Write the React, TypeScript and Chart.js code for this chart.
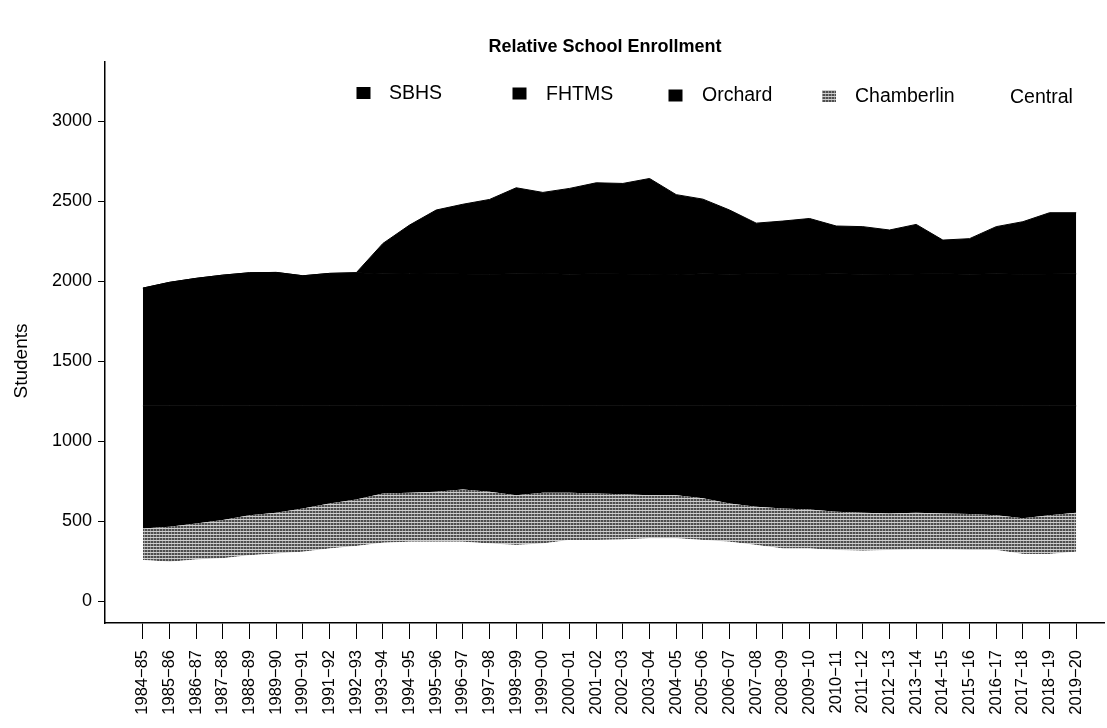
import React, { useEffect, useRef } from 'react';
import { Chart, registerables } from 'chart.js';

Chart.register(...registerables);

// ---- data ----
const categories = [
  '1984−85', '1985−86', '1986−87', '1987−88', '1988−89', '1989−90', '1990−91', '1991−92', '1992−93',
  '1993−94', '1994−95', '1995−96', '1996−97', '1997−98', '1998−99', '1999−00', '2000−01', '2001−02',
  '2002−03', '2003−04', '2004−05', '2005−06', '2006−07', '2007−08', '2008−09', '2009−10', '2010−11',
  '2011−12', '2012−13', '2013−14', '2014−15', '2015−16', '2016−17', '2017−18', '2018−19', '2019−20',
];

const central = [
  256, 246, 260, 267, 287, 298, 308, 329, 344, 365, 371, 371, 371, 360, 350, 360, 381, 381,
  385, 392, 392, 381, 371, 350, 329, 329, 319, 315, 319, 323, 323, 319, 319, 294, 294, 308,
];

const chamberlin = [
  198, 218, 225, 239, 250, 254, 271, 281, 291, 308, 306, 312, 327, 323, 312, 317, 296, 292,
  282, 270, 270, 261, 239, 240, 250, 244, 239, 237, 229, 229, 225, 225, 218, 223, 243, 244,
];

const orchard = [
  766, 756, 735, 714, 683, 668, 641, 610, 585, 547, 543, 537, 522, 537, 558, 543, 543, 547,
  553, 558, 558, 578, 610, 630, 641, 647, 662, 668, 672, 668, 672, 676, 683, 703, 683, 668,
];

const fhtms = [
  736, 772, 797, 817, 832, 834, 813, 828, 832, 825, 828, 826, 824, 822, 825, 827, 823, 826,
  824, 822, 820, 825, 823, 826, 824, 822, 825, 823, 821, 824, 826, 823, 825, 822, 824, 825,
];

const sbhs = [
  0, 0, 0, 0, 0, 0, 0, 0, 0, 190, 302, 398, 436, 468, 538, 507, 536, 568,
  566, 599, 500, 467, 401, 316, 331, 349, 299, 297, 278, 310, 210, 222, 295, 329, 383, 382,
];

const yTicks = [0, 500, 1000, 1500, 2000, 2500, 3000];
const legendNames = ['SBHS', 'FHTMS', 'Orchard', 'Chamberlin', 'Central'];

const FONT = '"Liberation Sans", Arial, Helvetica, sans-serif';

function makeStipple(): CanvasPattern | string {
  const c = document.createElement('canvas');
  c.width = 3;
  c.height = 3;
  const g = c.getContext('2d');
  if (!g) return '#888';
  g.fillStyle = '#4e4e4e';
  g.fillRect(0, 0, 3, 3);
  g.fillStyle = '#cfcfcf';
  g.fillRect(0, 0, 3, 1);
  g.fillStyle = '#929292';
  g.fillRect(0, 1, 1, 2);
  return g.createPattern(c, 'repeat') || '#888';
}

export default function App() {
  const ref = useRef<HTMLCanvasElement | null>(null);

  useEffect(() => {
    const canvas = ref.current;
    if (!canvas) return;
    const stipple = makeStipple();
    const pts = (arr: number[]) => arr.map((v, i) => ({ x: i, y: v }));

    const base = { pointRadius: 0, tension: 0 };
    const datasets: any[] = [
      { label: 'Central', data: pts(central), backgroundColor: '#ffffff', borderColor: 'rgba(0,0,0,0)', borderWidth: 0, fill: 'origin', ...base },
      { label: 'Chamberlin', data: pts(chamberlin), backgroundColor: stipple, borderColor: 'rgba(0,0,0,0)', borderWidth: 0, fill: '-1', ...base },
      { label: 'Orchard', data: pts(orchard), backgroundColor: '#000000', borderColor: '#000000', borderWidth: 1, fill: '-1', ...base },
      { label: 'FHTMS', data: pts(fhtms), backgroundColor: '#000000', borderColor: '#000000', borderWidth: 1, fill: '-1', ...base },
      { label: 'SBHS', data: pts(sbhs), backgroundColor: '#000000', borderColor: '#000000', borderWidth: 1, fill: '-1', ...base },
    ];

    const decor = {
      id: 'decor',
      afterDraw(chart: any) {
        const ctx = chart.ctx as CanvasRenderingContext2D;
        ctx.save();
        ctx.fillStyle = '#000';
        // title
        ctx.font = `bold 18px ${FONT}`;
        ctx.textAlign = 'center';
        ctx.textBaseline = 'middle';
        ctx.fillText('Relative School Enrollment', 605, 47);
        // y title
        ctx.save();
        ctx.translate(22, 361);
        ctx.rotate(-Math.PI / 2);
        ctx.font = `19px ${FONT}`;
        ctx.fillText('Students', 0, 0);
        ctx.restore();
        // legend
        const items = [
          { sx: 363.5, sy: 93, tx: 389, ty: 94, fill: '#000' as any },
          { sx: 519.5, sy: 93.5, tx: 546, ty: 94.5, fill: '#000' as any },
          { sx: 675.5, sy: 95.5, tx: 702, ty: 96, fill: '#000' as any },
          { sx: 829, sy: 96, tx: 855, ty: 97, fill: stipple as any },
          { sx: 985, sy: 97, tx: 1010, ty: 97.5, fill: '#ffffff' as any },
        ];
        ctx.font = `19.5px ${FONT}`;
        ctx.textAlign = 'left';
        items.forEach((it, k) => {
          ctx.fillStyle = it.fill;
          ctx.fillRect(it.sx - 7, it.sy - 6, 14, 12);
          ctx.fillStyle = '#000';
          ctx.fillText(legendNames[k], it.tx, it.ty);
        });
        ctx.restore();
      },
    };

    const chart = new Chart(canvas, {
      type: 'line',
      data: { datasets },
      options: {
        animation: false,
        responsive: false,
        devicePixelRatio: 1,
        layout: { padding: { top: 62, left: 0, right: 0, bottom: 0 } },
        plugins: { legend: { display: false }, title: { display: false }, tooltip: { enabled: false } },
        scales: {
          x: {
            type: 'linear',
            min: -1.421,
            max: 36.047,
            afterBuildTicks: (s: any) => {
              s.ticks = categories.map((_, i) => ({ value: i }));
            },
            afterFit: (s: any) => {
              s.height = 105;
            },
            ticks: {
              autoSkip: false,
              maxRotation: 90,
              minRotation: 90,
              padding: 11,
              color: '#000',
              font: { family: FONT, size: 16.5 },
              callback: (v: any) => categories[Math.round(Number(v))] ?? '',
            },
            grid: { display: true, drawOnChartArea: false, drawTicks: true, tickLength: 16, color: '#000', lineWidth: 1 },
            border: { display: true, color: '#000', width: 1.5 },
          },
          y: {
            stacked: true,
            min: -137,
            max: 3369,
            afterBuildTicks: (s: any) => {
              s.ticks = yTicks.map((v) => ({ value: v }));
            },
            afterFit: (s: any) => {
              s.width = 105;
            },
            ticks: {
              color: '#000',
              padding: 6,
              font: { family: FONT, size: 18 },
              callback: (v: any) => String(v),
            },
            grid: { display: true, drawOnChartArea: false, drawTicks: true, tickLength: 7, color: '#000', lineWidth: 1 },
            border: { display: true, color: '#000', width: 1.5 },
          },
        },
      },
      plugins: [decor],
    } as any);

    return () => chart.destroy();
  }, []);

  return (
    <div style={{ position: 'fixed', left: 0, top: 0, width: 1107, height: 728, background: '#fff', overflow: 'hidden' }}>
      <canvas ref={ref} width={1107} height={728} style={{ display: 'block' }} />
    </div>
  );
}
